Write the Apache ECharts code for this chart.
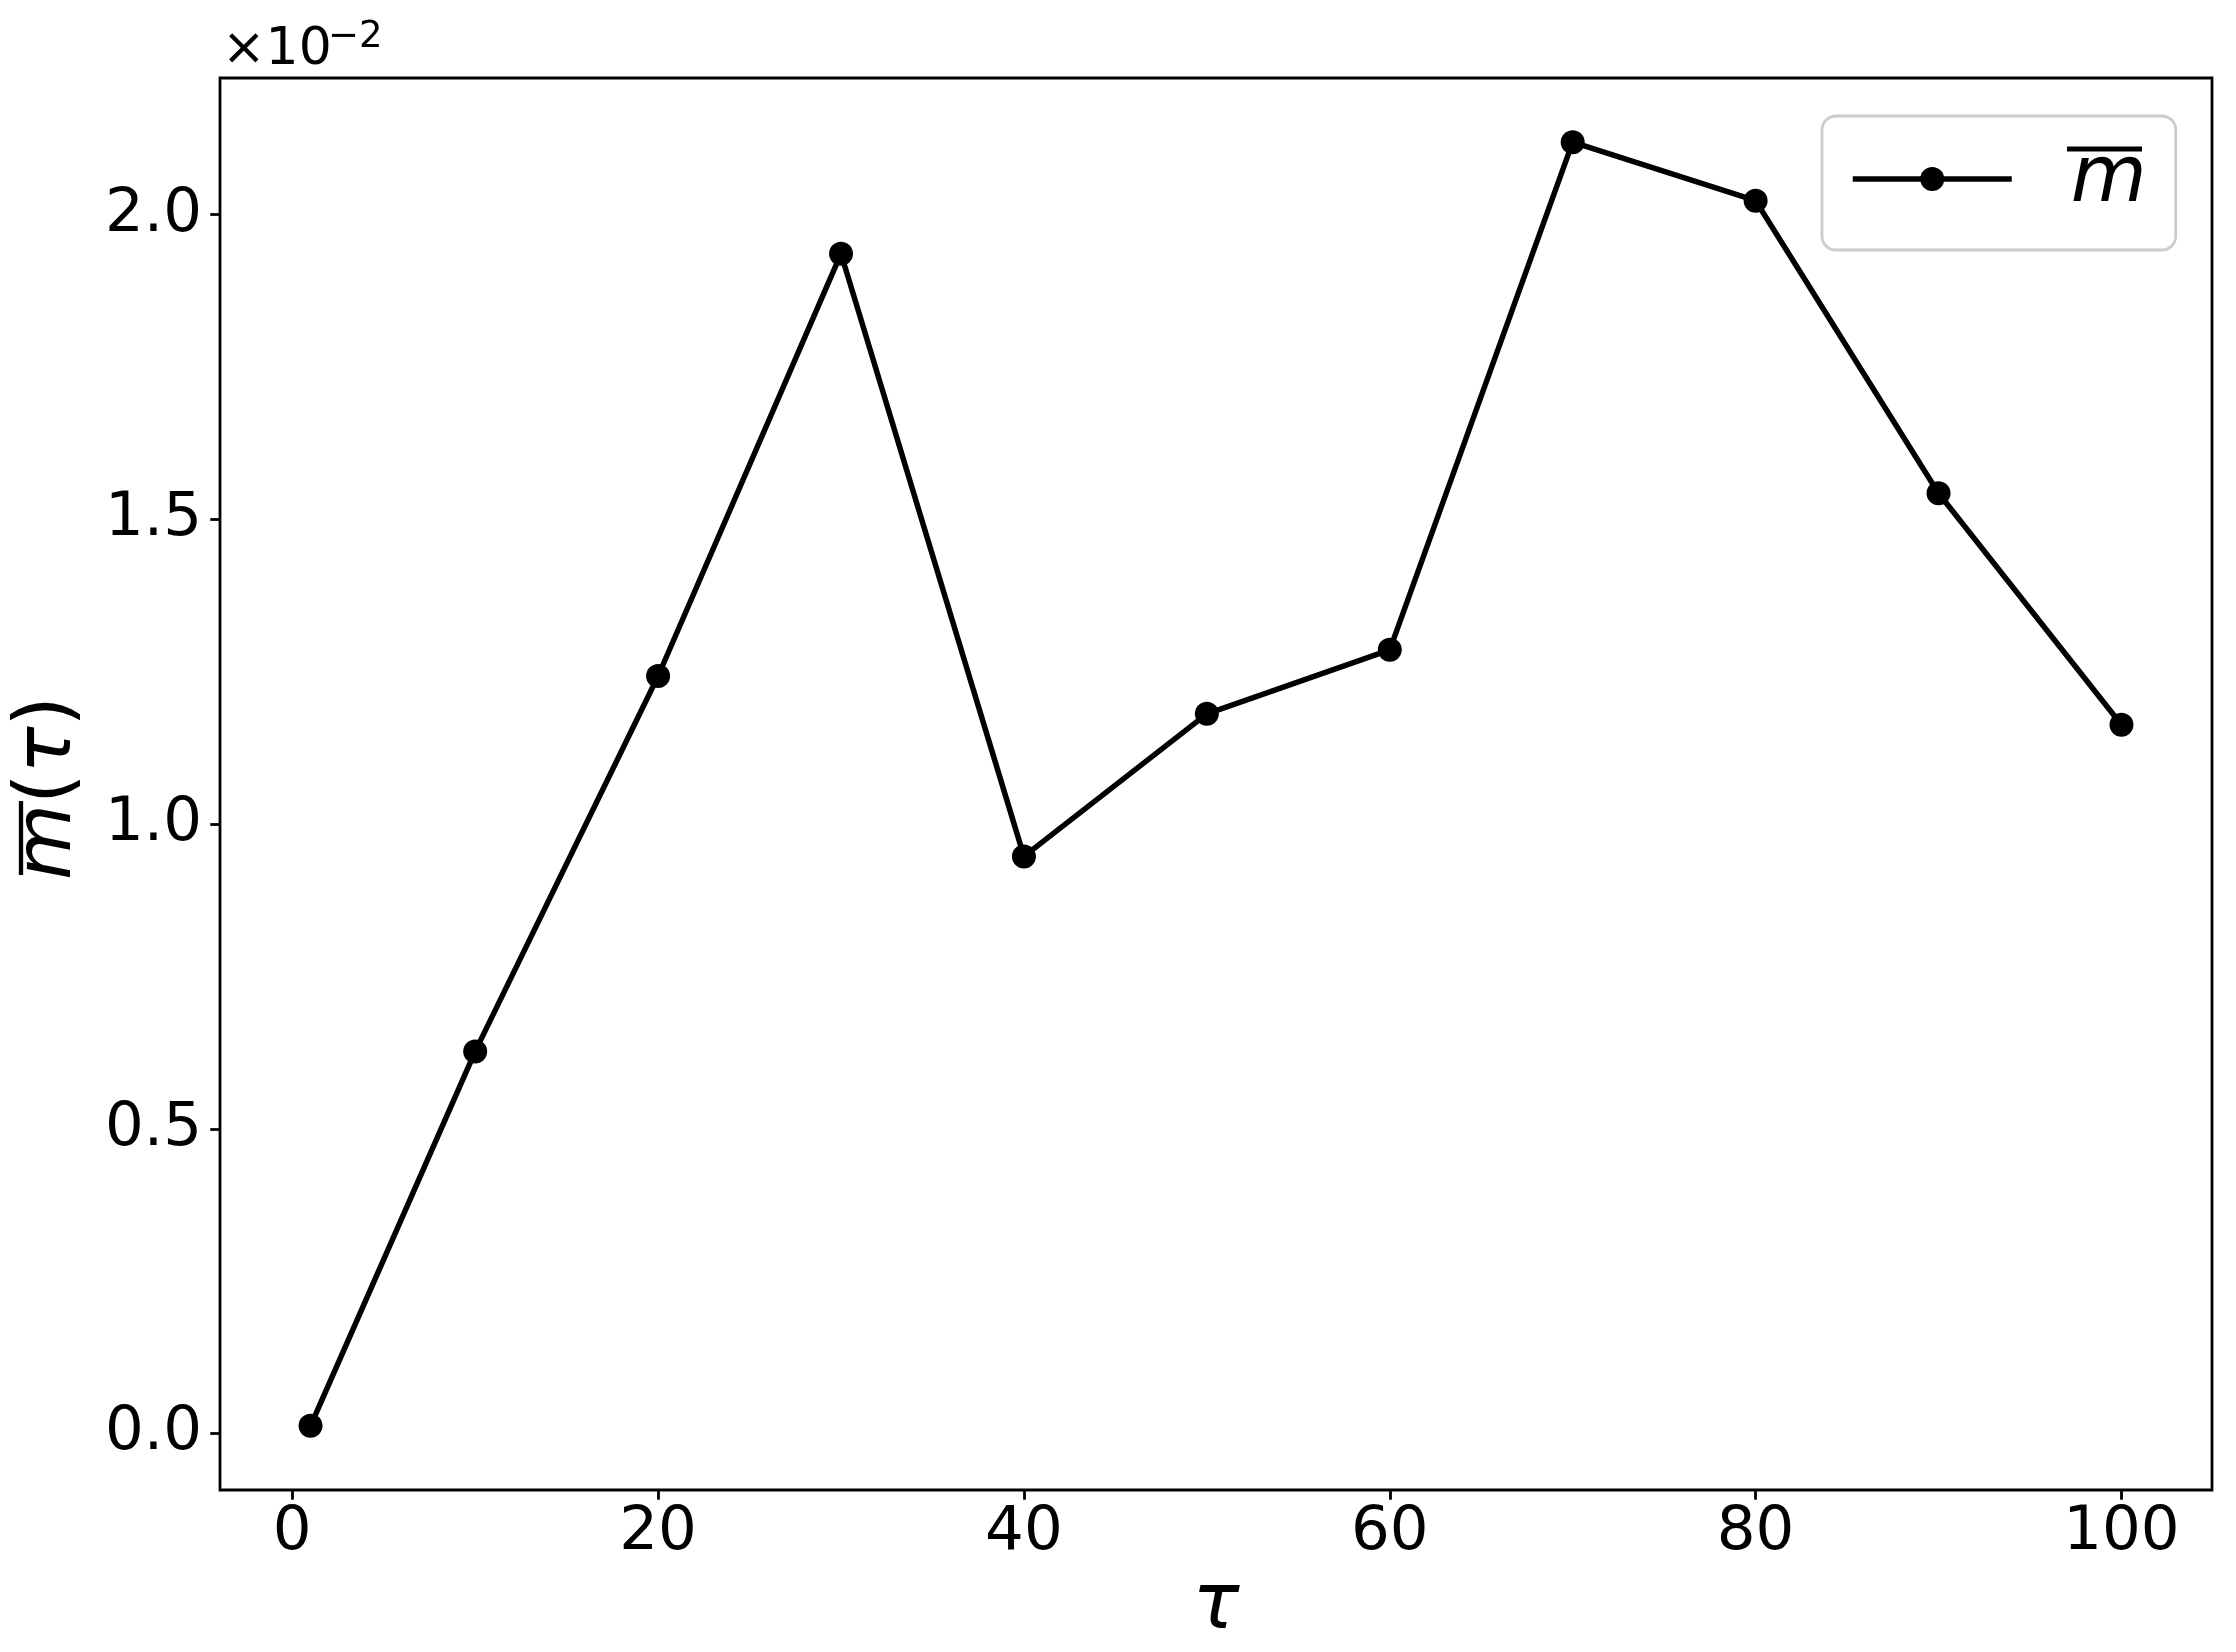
<!DOCTYPE html>
<html>
<head>
<meta charset="utf-8">
<script src="https://cdn.jsdelivr.net/npm/echarts@6/dist/echarts.min.js"></script>
<style>
  html, body { margin: 0; padding: 0; background: #fff; }
  #chart { width: 2236px; height: 1652px; }
</style>
</head>
<body>
<div id="chart"></div>
<script>
// ---- data ----
const tau = [1, 10, 20, 30, 40, 50, 60, 70, 80, 90, 100];
const mbar = [0.000126, 0.00627, 0.01243, 0.01936, 0.00947, 0.01181, 0.01286, 0.02119, 0.02023, 0.01543, 0.01163];
const xTicks = [0, 20, 40, 60, 80, 100];
const yTicks = [0, 0.005, 0.01, 0.015, 0.02];
const seriesName = 'm\u0304';

const FONT = 'DejaVu Sans';
const chart = echarts.init(document.getElementById('chart'), null, { renderer: 'canvas' });

const option = {
  animation: false,
  backgroundColor: '#ffffff',
  grid: {
    left: 220, top: 78, width: 1992, height: 1413,
    show: true, borderColor: '#000', borderWidth: 2.8, backgroundColor: 'transparent'
  },
  xAxis: {
    type: 'value',
    min: -3.95, max: 104.95,
    name: 'τ',
    nameLocation: 'middle',
    nameGap: 79,
    nameTextStyle: { fontFamily: FONT, fontSize: 78, fontStyle: 'italic', color: '#000' },
    axisLine: { show: false, onZero: false },
    splitLine: { show: false },
    axisTick: { show: true, inside: false, length: 9.7, lineStyle: { color: '#000', width: 2.8 }, customValues: xTicks },
    axisLabel: { show: true, margin: 13, fontFamily: FONT, fontSize: 61, color: '#000', customValues: xTicks,
      formatter: v => String(v) }
  },
  yAxis: {
    type: 'value',
    min: -0.000927, max: 0.022243,
    axisLine: { show: false, onZero: false },
    splitLine: { show: false },
    axisTick: { show: true, inside: false, length: 9.7, lineStyle: { color: '#000', width: 2.8 }, customValues: yTicks },
    axisLabel: { show: true, margin: 18, fontFamily: FONT, fontSize: 61, color: '#000', customValues: yTicks,
      formatter: v => (v * 100).toFixed(1) }
  },
  legend: {
    show: true,
    left: 1822, top: 116,
    orient: 'vertical',
    padding: [22, 29, 30, 28],
    itemWidth: 159, itemHeight: 30,
    backgroundColor: 'rgba(255,255,255,0.8)',
    borderColor: '#cccccc', borderWidth: 2.8, borderRadius: 14,
    data: [seriesName],
    lineStyle: { width: 5.5, color: '#000' },
    formatter: () => '{m|m}',
    textStyle: {
      color: '#000',
      rich: { m: { fontFamily: FONT, fontSize: 78, fontStyle: 'italic', color: '#000', lineHeight: 78, padding: [4, 0, 0, 54] } }
    }
  },
  series: [{
    name: seriesName,
    type: 'line',
    data: tau.map((t, i) => [t, mbar[i]]),
    symbol: 'circle',
    symbolSize: 24,
    showSymbol: true,
    lineStyle: { color: '#000', width: 5.5 },
    itemStyle: { color: '#000' },
    emphasis: { disabled: true },
    clip: false
  }],
  graphic: [
    // offset text ×10^-2
    { type: 'text', x: 222, y: 50, silent: true,
      style: { text: '×10', fontFamily: FONT, fontSize: 52, fill: '#000', align: 'left', verticalAlign: 'middle' } },
    { type: 'text', x: 328, y: 37, silent: true,
      style: { text: '−2', fontFamily: FONT, fontSize: 37, fill: '#000', align: 'left', verticalAlign: 'middle' } },
    // y-axis label m̄(τ)
    { type: 'text', x: 50, y: 788, rotation: Math.PI / 2, silent: true,
      style: {
        text: '{i|m}{n|(}{i|τ}{n|)}', align: 'center', verticalAlign: 'middle', fill: '#000',
        rich: {
          i: { fontFamily: FONT, fontSize: 78, fontStyle: 'italic', fill: '#000' },
          n: { fontFamily: FONT, fontSize: 78, fill: '#000' }
        }
      } },
    { type: 'line', silent: true, shape: { x1: 21, y1: 801, x2: 21, y2: 875 }, style: { stroke: '#000', lineWidth: 4.3 } },
    // overline on legend label
    { type: 'line', silent: true, z: 100, shape: { x1: 2067, y1: 149, x2: 2142, y2: 149 }, style: { stroke: '#000', lineWidth: 5 } }
  ]
};
chart.setOption(option);
</script>
</body>
</html>
